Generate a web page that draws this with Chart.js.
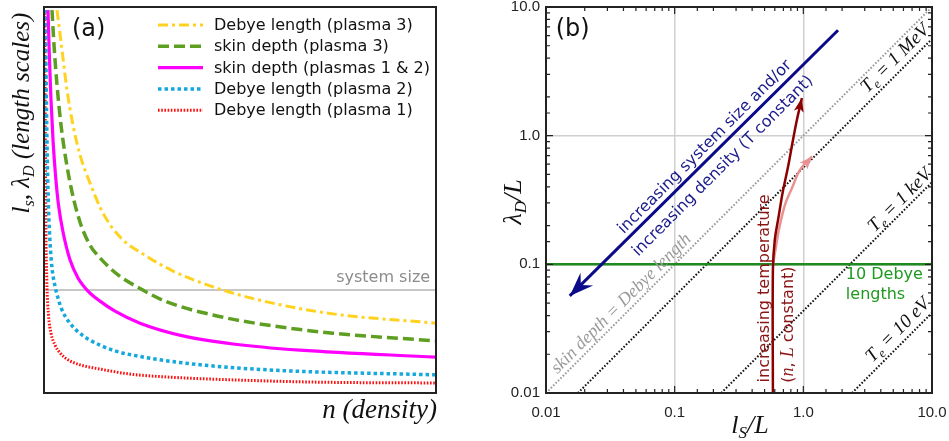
<!DOCTYPE html>
<html>
<head>
<meta charset="utf-8">
<script src="https://cdn.jsdelivr.net/npm/chart.js@4.4.0/dist/chart.umd.min.js"></script>
<style>
  html, body { margin: 0; padding: 0; background: #fff; }
  #wrapA { position: absolute; left: 0; top: 0; width: 470px; height: 441px; }
  #wrapB { position: absolute; left: 470px; top: 0; width: 479px; height: 441px; }
</style>
</head>
<body>
<div id="wrapA"><canvas id="chartA"></canvas></div>
<div id="wrapB"><canvas id="chartB"></canvas></div>
<script>
// (a) length scales vs density, unitless axes 0..1
var debye3X = [0.0332, 0.0459, 0.0587, 0.0740, 0.0918, 0.1173, 0.1505, 0.1939, 0.2526, 0.3291, 0.4311, 0.5689, 0.7372, 1.0];
var debye3Y = [0.992, 0.889, 0.785, 0.694, 0.617, 0.544, 0.466, 0.404, 0.360, 0.316, 0.275, 0.236, 0.205, 0.181];
var skin3X = [0.0204, 0.0255, 0.0332, 0.0434, 0.0561, 0.0714, 0.0918, 0.1173, 0.1429, 0.1888, 0.2372, 0.3138, 0.4311, 0.5689, 0.7372, 1.0];
var skin3Y = [0.992, 0.902, 0.798, 0.694, 0.603, 0.521, 0.443, 0.383, 0.350, 0.306, 0.275, 0.236, 0.202, 0.176, 0.155, 0.135];
var skin12X = [0.0102, 0.0140, 0.0179, 0.0230, 0.0293, 0.0370, 0.0485, 0.0663, 0.0867, 0.1122, 0.1429, 0.1811, 0.2449, 0.3546, 0.4821, 0.6531, 1.0];
var skin12Y = [0.992, 0.863, 0.759, 0.655, 0.565, 0.487, 0.417, 0.345, 0.298, 0.264, 0.238, 0.212, 0.181, 0.148, 0.127, 0.111, 0.093];
var debye2X = [0.0038, 0.0058, 0.0084, 0.0117, 0.0158, 0.0204, 0.0281, 0.0357, 0.0459, 0.0638, 0.0842, 0.1122, 0.1429, 0.1811, 0.2270, 0.3546, 0.5689, 1.0];
var debye2Y = [0.992, 0.785, 0.604, 0.474, 0.383, 0.324, 0.277, 0.246, 0.215, 0.184, 0.161, 0.140, 0.124, 0.109, 0.098, 0.078, 0.060, 0.047];
var debye1X = [0.0020, 0.0031, 0.0046, 0.0071, 0.0115, 0.0179, 0.0281, 0.0408, 0.0612, 0.0918, 0.1429, 0.2194, 0.3214, 0.4821, 0.7041, 1.0];
var debye1Y = [0.992, 0.707, 0.448, 0.293, 0.202, 0.155, 0.124, 0.104, 0.086, 0.073, 0.062, 0.049, 0.041, 0.034, 0.028, 0.026];
var systemSize = 0.267;

// (b) lambda_D/L vs l_s/L, log-log
var tickValsB = [0.01, 0.1, 1, 10];
var tickLabelsB = ['0.01', '0.1', '1.0', '10.0'];
var equalX = [0.01, 10], equalY = [0.01, 10];
var mevX = [0.0177, 10], mevY = [0.01, 5.65];
var kevX = [0.23, 10], kevY = [0.01, 0.435];
var evX = [2.39, 10], evY = [0.01, 0.042];
var tenDebye = 0.1;
var sizeX = [1.86, 0.0153], sizeY = [6.6, 0.0568];
var tempX = [0.58, 0.58, 0.60, 0.645, 0.69, 0.76, 0.83, 0.89, 0.975];
var tempY = [0.01, 0.09, 0.155, 0.24, 0.36, 0.57, 0.92, 1.32, 1.96];
var temp2X = [0.58, 0.615, 0.645, 0.72, 0.815, 0.94, 1.17];
var temp2Y = [0.099, 0.14, 0.185, 0.29, 0.39, 0.54, 0.69];

Chart.defaults.font.family = 'DejaVu Sans';

function pts(xs, ys) {
  return xs.map(function (x, i) { return { x: x, y: ys[i] }; });
}

// text made of pieces (for subscripts / mixed fonts), optionally rotated
function rich(ctx, parts, x, y, angle, align, color) {
  ctx.save();
  ctx.translate(x, y);
  ctx.rotate(angle || 0);
  ctx.textAlign = 'left';
  ctx.textBaseline = 'alphabetic';
  var w = 0;
  parts.forEach(function (p) { ctx.font = p.f; w += ctx.measureText(p.t).width; });
  var cx = align === 'center' ? -w / 2 : (align === 'right' ? -w : 0);
  parts.forEach(function (p) {
    ctx.font = p.f;
    ctx.fillStyle = color;
    ctx.fillText(p.t, cx, p.dy || 0);
    cx += ctx.measureText(p.t).width;
  });
  ctx.restore();
}

var frame = {
  id: 'frame',
  afterDraw: function (c) {
    var a = c.chartArea, ctx = c.ctx;
    ctx.save();
    ctx.strokeStyle = '#222';
    ctx.lineWidth = 2;
    ctx.strokeRect(a.left, a.top, a.right - a.left, a.bottom - a.top);
    ctx.restore();
  }
};

//panel a
var legendA = {
  id: 'legendA',
  afterDatasetsDraw: function (c) {
    var ctx = c.ctx;
    var sx = c.scales.x, sy = c.scales.y;
    ctx.save();
    // system size label
    ctx.font = '16px "DejaVu Sans"';
    ctx.fillStyle = '#8c8c8c';
    ctx.textAlign = 'right';
    ctx.textBaseline = 'middle';
    ctx.fillText('system size', sx.getPixelForValue(0.985), sy.getPixelForValue(systemSize) - 12);
    // legend
    var rows = c.data.datasets.filter(function (d) { return d.inLegend; });
    rows.forEach(function (d, i) {
      var y = 25 + i * 21.3;
      ctx.strokeStyle = d.borderColor;
      ctx.lineWidth = d.borderWidth;
      ctx.setLineDash(d.borderDash || []);
      ctx.beginPath();
      ctx.moveTo(158, y);
      ctx.lineTo(203, y);
      ctx.stroke();
      ctx.setLineDash([]);
      ctx.fillStyle = '#111';
      ctx.textAlign = 'left';
      ctx.fillText(d.label, 214, y + 1);
    });
    ctx.font = '24px "DejaVu Sans"';
    ctx.fillText('(a)', 72, 30);
    ctx.restore();
    // axis titles
    var big = 'italic 25px "Liberation Serif"', sub = 'italic 16px "Liberation Serif"';
    rich(ctx, [{ t: 'l', f: big }, { t: 's', f: sub, dy: 5 }, { t: ', ', f: big }, { t: 'λ', f: big },
      { t: 'D', f: sub, dy: 5 }, { t: ' (length scales)', f: big }], 29, 113, -Math.PI / 2, 'center', '#111');
    rich(ctx, [{ t: 'n (density)', f: 'italic 27px "Liberation Serif"' }], 437, 418, 0, 'right', '#111');
  }
};

var chartA = new Chart(document.getElementById('chartA'), {
  type: 'line',
  data: {
    datasets: [
      { label: 'Debye length (plasma 3)', inLegend: true, data: pts(debye3X, debye3Y),
        borderColor: '#ffd21f', borderWidth: 3, borderDash: [10, 4, 3, 4], order: 1 },
      { label: 'skin depth (plasma 3)', inLegend: true, data: pts(skin3X, skin3Y),
        borderColor: '#5e9f22', borderWidth: 3.5, borderDash: [11, 5], order: 1 },
      { label: 'skin depth (plasmas 1 & 2)', inLegend: true, data: pts(skin12X, skin12Y),
        borderColor: '#ff00ff', borderWidth: 3.2, order: 1 },
      { label: 'Debye length (plasma 2)', inLegend: true, data: pts(debye2X, debye2Y),
        borderColor: '#14a8dc', borderWidth: 3.5, borderDash: [3.5, 3], order: 1 },
      { label: 'Debye length (plasma 1)', inLegend: true, data: pts(debye1X, debye1Y),
        borderColor: '#ff1010', borderWidth: 3, borderDash: [1.6, 1.6], order: 1 },
      { label: 'system size', data: pts([0, 1], [systemSize, systemSize]),
        borderColor: '#b4b4b4', borderWidth: 1.5, order: 5 }
    ]
  },
  options: {
    responsive: true,
    maintainAspectRatio: false,
    animation: false,
    events: [],
    layout: { padding: { left: 44, top: 7, right: 34, bottom: 48 } },
    elements: { point: { radius: 0 }, line: { cubicInterpolationMode: 'monotone' } },
    plugins: { legend: { display: false }, tooltip: { enabled: false } },
    scales: {
      x: { type: 'linear', min: 0, max: 1, display: false },
      y: { type: 'linear', min: 0, max: 1, display: false }
    }
  },
  plugins: [frame, legendA]
});

//panel b
function isMajor(v) {
  var l = Math.log10(v);
  return Math.abs(l - Math.round(l)) < 1e-6;
}

var inTicks = {
  id: 'inTicks',
  afterDatasetsDraw: function (c) {
    var a = c.chartArea, ctx = c.ctx, sx = c.scales.x, sy = c.scales.y;
    ctx.save();
    ctx.strokeStyle = '#222';
    ctx.lineWidth = 1.2;
    ctx.beginPath();
    sx.ticks.forEach(function (t) {
      var p = sx.getPixelForValue(t.value), L = isMajor(t.value) ? 7 : 4;
      ctx.moveTo(p, a.bottom); ctx.lineTo(p, a.bottom - L);
      ctx.moveTo(p, a.top); ctx.lineTo(p, a.top + L);
    });
    sy.ticks.forEach(function (t) {
      var p = sy.getPixelForValue(t.value), L = isMajor(t.value) ? 7 : 4;
      ctx.moveTo(a.left, p); ctx.lineTo(a.left + L, p);
      ctx.moveTo(a.right, p); ctx.lineTo(a.right - L, p);
    });
    ctx.stroke();
    ctx.restore();
  }
};

var arrows = {
  id: 'arrows',
  afterDatasetsDraw: function (c) {
    var ctx = c.ctx;
    c.data.datasets.forEach(function (d, i) {
      if (!d.head) return;
      var el = c.getDatasetMeta(i).data;
      var p = el[el.length - 1], q = el[el.length - 2];
      var ang = Math.atan2(p.y - q.y, p.x - q.x);
      var h = d.head, ux = Math.cos(ang), uy = Math.sin(ang);
      ctx.save();
      ctx.fillStyle = d.borderColor;
      ctx.beginPath();
      ctx.moveTo(p.x, p.y);
      ctx.lineTo(p.x - h[0] * ux - h[1] * uy, p.y - h[0] * uy + h[1] * ux);
      ctx.lineTo(p.x - h[0] * h[2] * ux, p.y - h[0] * h[2] * uy);
      ctx.lineTo(p.x - h[0] * ux + h[1] * uy, p.y - h[0] * uy - h[1] * ux);
      ctx.closePath();
      ctx.fill();
      ctx.restore();
    });
  }
};

var notesB = {
  id: 'notesB',
  afterDatasetsDraw: function (c) {
    var ctx = c.ctx, sx = c.scales.x, sy = c.scales.y;
    function X(v) { return sx.getPixelForValue(v); }
    function Y(v) { return sy.getPixelForValue(v); }
    var d45 = -Math.PI / 4, d90 = -Math.PI / 2;
    var ser = 'italic 19px "Liberation Serif"', serS = 'italic 13px "Liberation Serif"';
    function te(rest, x, y) {
      rich(ctx, [{ t: 'T', f: ser }, { t: 'e', f: serS, dy: 4 }, { t: ' = ' + rest, f: ser }],
        X(x) + 4, Y(y) + 4, d45, 'center', '#111');
    }
    te('1 MeV', 5.15, 4.0);
    te('1 keV', 5.6, 0.316);
    te('10 eV', 5.4, 0.031);
    rich(ctx, [{ t: 'skin depth = Debye length', f: 'italic 18px "Liberation Serif"' }],
      X(0.038) + 4, Y(0.05) + 4, d45, 'center', '#9a9a9a');
    var sans = '16px "DejaVu Sans"';
    rich(ctx, [{ t: 'increasing system size and/or', f: sans }], X(0.169) + 4, Y(0.83) + 4, d45, 'center', '#1a1a8c');
    rich(ctx, [{ t: 'increasing density (T constant)', f: sans }], X(0.233) + 4, Y(0.59) + 4, d45, 'center', '#1a1a8c');
    rich(ctx, [{ t: 'increasing temperature', f: sans }], X(0.485) + 6, Y(0.065), d90, 'center', '#8b1414');
    var it = 'italic 18px "Liberation Serif"';
    rich(ctx, [{ t: '(', f: sans }, { t: 'n', f: it }, { t: ', ', f: sans }, { t: 'L', f: it },
      { t: ' constant)', f: sans }], X(0.746) + 6, Y(0.034), d90, 'center', '#8b1414');
    ctx.save();
    ctx.font = sans;
    ctx.fillStyle = '#1f9a1f';
    ctx.textAlign = 'left';
    ctx.textBaseline = 'middle';
    ctx.fillText('10 Debye', X(2.14), Y(0.083));
    ctx.fillText('lengths', X(2.14), Y(0.058));
    ctx.font = '24px "DejaVu Sans"';
    ctx.fillStyle = '#111';
    ctx.fillText('(b)', X(0.0119), 30);
    ctx.restore();
    // axis titles
    var big = 'italic 26px "Liberation Serif"', sub = 'italic 17px "Liberation Serif"';
    rich(ctx, [{ t: 'λ', f: big }, { t: 'D', f: sub, dy: 5 }, { t: '/L', f: big }], 51, 202, d90, 'center', '#111');
    rich(ctx, [{ t: 'l', f: big }, { t: 'S', f: sub, dy: 5 }, { t: '/L', f: big }], 280, 433, 0, 'center', '#111');
  }
};

var chartB = new Chart(document.getElementById('chartB'), {
  type: 'line',
  data: {
    datasets: [
      { data: pts(equalX, equalY), borderColor: '#9a9a9a', borderWidth: 2, borderDash: [1.6, 1.8], order: 6 },
      { data: pts(mevX, mevY), borderColor: '#111', borderWidth: 2, borderDash: [1.6, 1.8], order: 6 },
      { data: pts(kevX, kevY), borderColor: '#111', borderWidth: 2, borderDash: [1.6, 1.8], order: 6 },
      { data: pts(evX, evY), borderColor: '#111', borderWidth: 2, borderDash: [1.6, 1.8], order: 6 },
      { data: pts([0.01, 10], [tenDebye, tenDebye]), borderColor: '#1f8a1f', borderWidth: 2.5, order: 4 },
      { data: pts(sizeX, sizeY), borderColor: '#0b0b8a', borderWidth: 3, order: 3, head: [24, 9, 0.65] },
      { data: pts(temp2X, temp2Y), borderColor: '#e89292', borderWidth: 2.5, tension: 0.35, order: 2, head: [13, 5, 0.75] },
      { data: pts(tempX, tempY), borderColor: '#8b0000', borderWidth: 2.5, tension: 0.35, order: 1, head: [14, 5, 0.75] }
    ]
  },
  options: {
    responsive: true,
    maintainAspectRatio: false,
    animation: false,
    events: [],
    layout: { padding: { left: 0, top: 7, right: 17, bottom: 0 } },
    elements: { point: { radius: 0 }, line: { tension: 0 } },
    plugins: { legend: { display: false }, tooltip: { enabled: false } },
    scales: {
      x: {
        type: 'logarithmic', min: 0.01, max: 10,
        afterFit: function (s) { s.height = 48; s.paddingLeft = 0; s.paddingRight = 0; },
        border: { display: false },
        grid: {
          drawTicks: false, lineWidth: 1.5,
          color: function (ctx) { return ctx.tick && isMajor(ctx.tick.value) ? '#cfcfcf' : 'rgba(0,0,0,0)'; }
        },
        ticks: {
          autoSkip: false, maxRotation: 0, minRotation: 0, padding: 11, color: '#222',
          font: { family: 'Liberation Sans', size: 15 },
          callback: function (v) {
            var i = tickValsB.findIndex(function (t) { return Math.abs(t - v) / t < 1e-6; });
            return i >= 0 ? tickLabelsB[i] : '';
          }
        }
      },
      y: {
        type: 'logarithmic', min: 0.01, max: 10,
        afterFit: function (s) { s.width = 76; s.paddingTop = 0; s.paddingBottom = 0; },
        border: { display: false },
        grid: {
          drawTicks: false, lineWidth: 1.5,
          color: function (ctx) { return ctx.tick && isMajor(ctx.tick.value) ? '#cfcfcf' : 'rgba(0,0,0,0)'; }
        },
        ticks: {
          autoSkip: false, padding: 6, color: '#222',
          font: { family: 'Liberation Sans', size: 15 },
          callback: function (v) {
            var i = tickValsB.findIndex(function (t) { return Math.abs(t - v) / t < 1e-6; });
            return i >= 0 ? tickLabelsB[i] : '';
          }
        }
      }
    }
  },
  plugins: [frame, inTicks, arrows, notesB]
});
</script>
</body>
</html>
